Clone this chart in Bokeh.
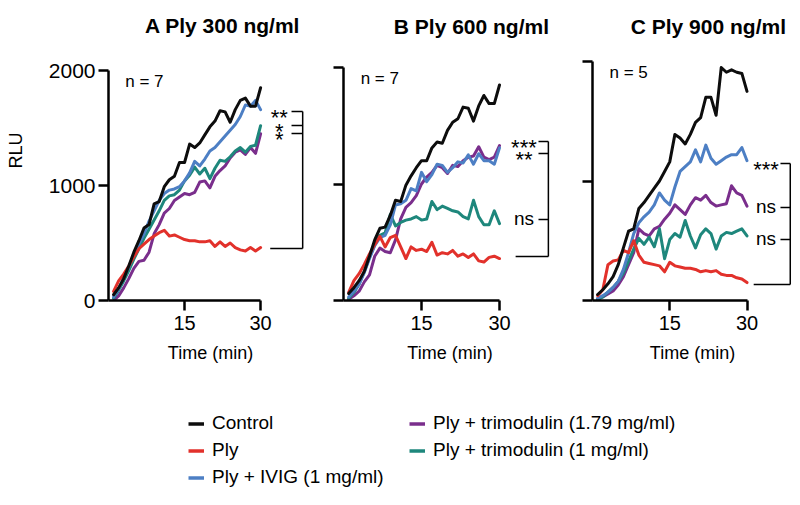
from bokeh.plotting import figure
from bokeh.models import FixedTicker, Range1d, Legend, LegendItem
from bokeh.layouts import row, column
from bokeh.embed import file_html
from bokeh.resources import INLINE
from bokeh.core.properties import value

FONT = "Liberation Sans"

# ---------------- data ----------------
time = list(range(1, 31))

series_names = ["Control", "Ply", "Ply + IVIG (1 mg/ml)",
                "Ply + trimodulin (1.79 mg/ml)", "Ply + trimodulin (1 mg/ml)"]
series_colors = ["#0d0d0d", "#e2312b", "#4d7fc4", "#7a2e8c", "#1e877c"]

# Panel A: Ply 300 ng/ml
a_control = [50, 110, 190, 300, 420, 520, 630, 660, 840, 860, 990, 1050, 1080, 1200, 1200,
             1360, 1330, 1370, 1440, 1510, 1560, 1650, 1640, 1550, 1660, 1740, 1760, 1690, 1690, 1850]
a_ply = [80, 170, 230, 300, 380, 450, 490, 530, 560, 590, 610, 560, 570, 550, 530,
         520, 520, 510, 510, 520, 470, 510, 470, 500, 460, 440, 430, 460, 430, 460]
a_ivig = [30, 100, 200, 290, 400, 490, 580, 690, 780, 870, 930, 960, 970, 990, 1040,
          1110, 1210, 1170, 1230, 1300, 1330, 1380, 1430, 1480, 1530, 1600, 1700, 1690, 1740, 1660]
a_tri179 = [0, 40, 110, 190, 280, 340, 350, 420, 580, 660, 760, 800, 870, 900, 930,
            920, 940, 1030, 1040, 980, 1080, 1130, 1170, 1240, 1290, 1310, 1270, 1330, 1280, 1450]
a_tri1 = [20, 90, 170, 260, 360, 450, 540, 620, 700, 780, 870, 910, 920, 960, 1040,
          1090, 1160, 1100, 1150, 1060, 1150, 1220, 1210, 1250, 1300, 1330, 1290, 1340, 1350, 1520]

# Panel B: Ply 600 ng/ml
b_control = [60, 110, 170, 250, 380, 520, 620, 630, 730, 860, 850, 990, 1070, 1140, 1200,
             1200, 1310, 1360, 1350, 1460, 1530, 1560, 1660, 1650, 1540, 1670, 1760, 1690, 1690, 1850]
b_ply = [70, 170, 230, 310, 400, 480, 550, 460, 540, 560, 460, 360, 460, 430, 440,
         420, 500, 390, 410, 400, 430, 380, 400, 370, 400, 340, 330, 370, 380, 360]
b_ivig = [30, 80, 140, 240, 360, 470, 540, 560, 650, 820, 830, 860, 960, 940, 1100,
          1020, 1080, 1170, 1160, 1100, 1140, 1190, 1180, 1250, 1170, 1260, 1200, 1200, 1170, 1310]
b_tri179 = [10, 40, 80, 160, 220, 380, 450, 420, 410, 520, 700, 800, 840, 900, 1000,
            1060, 1100, 1160, 1140, 1090, 1160, 1150, 1200, 1230, 1240, 1320, 1230, 1210, 1230, 1330]
b_tri1 = [20, 70, 140, 250, 370, 480, 560, 580, 740, 640, 670, 690, 700, 720, 690,
          700, 850, 780, 810, 790, 770, 760, 720, 700, 860, 720, 650, 650, 770, 660]

# Panel C: Ply 900 ng/ml
c_control = [50, 90, 140, 200, 300, 440, 580, 600, 770, 820, 880, 940, 1000, 1080, 1160,
             1390, 1360, 1310, 1390, 1490, 1530, 1700, 1700, 1550, 1950, 1910, 1930, 1910, 1900, 1750]
c_ply = [40, 90, 300, 330, 340, 420, 400, 500, 380, 320, 310, 300, 290, 240, 320,
         290, 280, 270, 270, 260, 240, 250, 240, 250, 220, 210, 210, 190, 180, 150]
c_ivig = [20, 40, 70, 110, 160, 260, 400, 560, 650, 700, 740, 800, 900, 840, 800,
          950, 1080, 1120, 1160, 1260, 1160, 1300, 1190, 1140, 1170, 1200, 1220, 1220, 1280, 1170]
c_tri179 = [10, 30, 55, 80, 130, 200, 300, 400, 600, 560, 540, 600, 620, 680, 730,
            800, 760, 720, 800, 860, 840, 880, 820, 790, 800, 810, 960, 900, 880, 790]
c_tri1 = [10, 30, 70, 110, 160, 230, 330, 430, 520, 470, 530, 450, 600, 350, 510,
          560, 530, 670, 540, 440, 550, 600, 560, 430, 540, 570, 560, 580, 600, 540]

# Titles, group sizes and significance annotations
panel_titles = ["A Ply 300 ng/ml", "B Ply 600 ng/ml", "C Ply 900 ng/ml"]
panel_n = ["n = 7", "n = 7", "n = 5"]
a_sig_labels = ["**", "*", "*"]
a_sig_levels = [1643, 1522, 1452]
a_sig_base = 452
b_sig_labels = ["***", "**", "ns"]
b_sig_levels = [1365, 1262, 695]
b_sig_base = 378
c_sig_labels = ["***", "ns", "ns"]
c_sig_levels = [1146, 778, 510]
c_sig_base = 134

y_ticks = [0, 1000, 2000]
x_ticks = [15, 30]

FRAME_H = 300


def style_axes(p, show_ylabels):
    for ax in (p.xaxis[0], p.yaxis[0]):
        ax.axis_line_width = 2.5
        ax.axis_line_color = "black"
        ax.major_tick_line_width = 2.5
        ax.major_tick_line_color = "black"
        ax.major_tick_out = 10
        ax.major_tick_in = 0
        ax.minor_tick_line_color = None
        ax.major_label_text_font = FONT
        ax.major_label_text_color = "black"
        ax.axis_label_text_font = FONT
        ax.axis_label_text_font_style = "normal"
        ax.axis_label_text_color = "black"
    p.xaxis.ticker = FixedTicker(ticks=x_ticks)
    p.xaxis.bounds = (0, 30)
    p.xaxis.major_label_text_font_size = "20px"
    p.xaxis.major_label_standoff = 5
    p.xaxis.axis_label = "Time (min)"
    p.xaxis.axis_label_text_font_size = "18px"
    p.xaxis.axis_label_standoff = 10
    p.yaxis.ticker = FixedTicker(ticks=y_ticks)
    p.yaxis.bounds = (0, 2000)
    p.yaxis.major_label_text_font_size = "21px"
    p.yaxis.major_label_standoff = 3
    if not show_ylabels:
        p.yaxis.major_label_overrides = {t: "" for t in y_ticks}
    p.xgrid.visible = False
    p.ygrid.visible = False
    p.outline_line_color = None


def make_panel(idx, ctrl, ply, ivig, t179, t1, sig_labels, sig_levels, sig_base,
               width, border_left, px_per_min, px_per_unit,
               title_x, title_y, star_x, tick_x0, bracket_x, base_x0):
    frame_w = width - border_left
    p = figure(width=width, height=FRAME_H + 78, output_backend="svg", toolbar_location=None,
               x_range=Range1d(0, frame_w / px_per_min),
               y_range=Range1d(0, FRAME_H / px_per_unit),
               min_border_left=border_left, min_border_right=0,
               min_border_top=0, min_border_bottom=78)
    style_axes(p, idx == 0)
    if idx == 0:
        p.yaxis.axis_label = "RLU"
        p.yaxis.axis_label_text_font_size = "18px"
        p.yaxis.axis_label_standoff = 20

    # draw order: trimodulin 1.79, trimodulin 1, IVIG, Ply, Control
    for ys, ci in ((t179, 3), (t1, 4), (ivig, 2), (ply, 1), (ctrl, 0)):
        p.line(time, ys, line_color=series_colors[ci], line_width=3,
               line_join="round", line_cap="round")

    # title and n
    p.text(x=[title_x], y=[title_y], text=[panel_titles[idx]],
           text_font=value(FONT), text_font_size=value("21px"), text_font_style="bold",
           text_align="center", text_baseline="alphabetic", text_color="black")
    p.text(x=[3.3], y=[1905], text=[panel_n[idx]],
           text_font=value(FONT), text_font_size=value("17px"),
           text_align="left", text_baseline="alphabetic", text_color="black")

    # significance bracket
    top = max(sig_levels)
    p.segment(x0=[bracket_x], y0=[sig_base], x1=[bracket_x], y1=[top],
              line_color="black", line_width=1.5)
    p.segment(x0=[tick_x0] * len(sig_levels), y0=sig_levels,
              x1=[bracket_x] * len(sig_levels), y1=sig_levels,
              line_color="black", line_width=1.5)
    p.segment(x0=[base_x0], y0=[sig_base], x1=[bracket_x], y1=[sig_base],
              line_color="black", line_width=1.5)
    offs = [6 if "*" in s else -1 for s in sig_labels]
    sizes = ["22px" if "*" in s else "19px" for s in sig_labels]
    p.text(x=[star_x] * len(sig_labels), y=sig_levels, text=sig_labels,
           y_offset=offs, text_font_size=sizes,
           text_font=value(FONT), text_align="center", text_baseline="middle",
           text_color="black")
    return p


pA = make_panel(0, a_control, a_ply, a_ivig, a_tri179, a_tri1,
                a_sig_labels, a_sig_levels, a_sig_base,
                width=312, border_left=108, px_per_min=5.07, px_per_unit=0.115,
                title_x=22.5, title_y=2391, star_x=33.7, tick_x0=36.1, bracket_x=38.3, base_x0=31.9)
pB = make_panel(1, b_control, b_ply, b_ivig, b_tri179, b_tri1,
                b_sig_labels, b_sig_levels, b_sig_base,
                width=244, border_left=31, px_per_min=5.2, px_per_unit=0.1165,
                title_x=24.6, title_y=2352, star_x=34.7, tick_x0=37.5, bracket_x=39.4, base_x0=33.1)
pC = make_panel(2, c_control, c_ply, c_ivig, c_tri179, c_tri1,
                c_sig_labels, c_sig_levels, c_sig_base,
                width=236, border_left=36, px_per_min=5.15, px_per_unit=0.1195,
                title_x=22.5, title_y=2293, star_x=33.7, tick_x0=36.5, bracket_x=38.4, base_x0=31.3)

# ---------------- legend ----------------
nan = float("nan")
leg = figure(width=792, height=111, output_backend="svg", toolbar_location=None,
             x_range=Range1d(0, 1), y_range=Range1d(0, 1),
             x_axis_type=None, y_axis_type=None,
             min_border_left=188, min_border_top=34, min_border_right=0, min_border_bottom=0)
leg.outline_line_color = None
items = []
for name, col in zip(series_names, series_colors):
    r = leg.line(x=[nan], y=[nan], line_color=col, line_width=3.5)
    items.append(LegendItem(label=name, renderers=[r]))
legend = Legend(items=items, location="top_left", orientation="vertical", nrows=3,
                margin=0, padding=0, spacing=5, glyph_width=16, glyph_height=19,
                label_standoff=8, label_height=19, label_width=192,
                label_text_font=FONT, label_text_font_size="19px",
                label_text_color="black",
                border_line_color=None, background_fill_alpha=0)
leg.add_layout(legend, "center")

layout = column(row(pA, pB, pC), leg)
open("out.html", "w").write(file_html(layout, INLINE))
